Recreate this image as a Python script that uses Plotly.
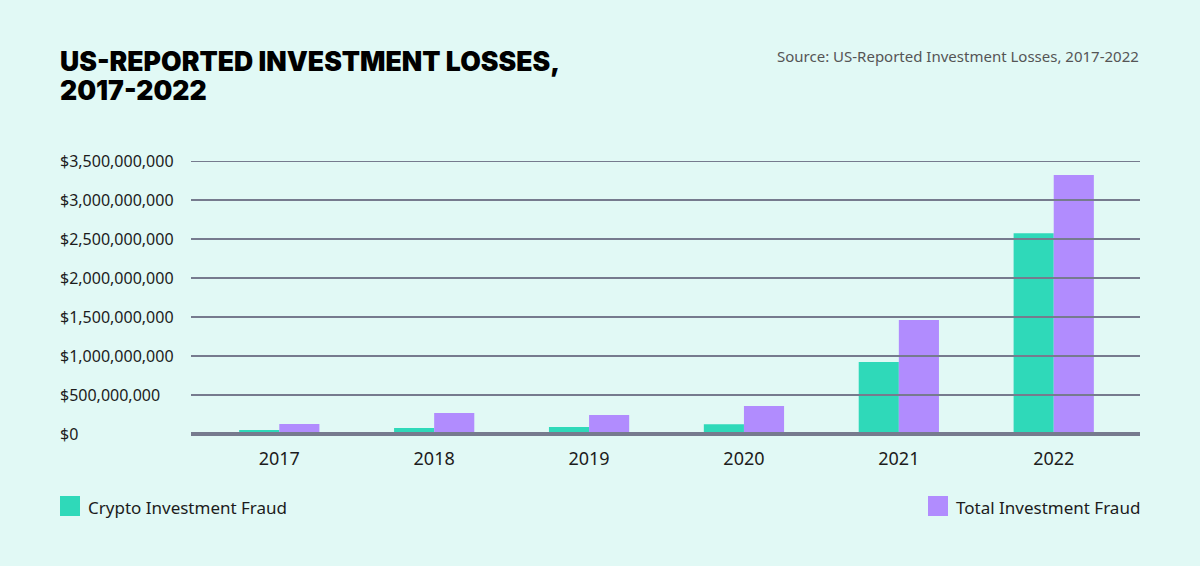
import plotly.graph_objects as go

years = ["2017", "2018", "2019", "2020", "2021", "2022"]
crypto = [50_000_000, 77_000_000, 90_000_000, 125_000_000, 923_000_000, 2_575_000_000]
total = [128_000_000, 270_000_000, 244_000_000, 360_000_000, 1_460_000_000, 3_320_000_000]
ytick_vals = [0, 500_000_000, 1_000_000_000, 1_500_000_000, 2_000_000_000,
              2_500_000_000, 3_000_000_000, 3_500_000_000]
ytick_text = ["$0", "$500,000,000", "$1,000,000,000", "$1,500,000,000",
              "$2,000,000,000", "$2,500,000,000", "$3,000,000,000", "$3,500,000,000"]
title_lines = ["US-REPORTED INVESTMENT LOSSES,", "2017-2022"]

BG = "#e1f9f5"
TEAL = "#2fd9b9"
PURPLE = "#b18cfe"
GRID = "#767b8e"
TXT = "#1c1c1c"
FONT = "Noto Sans"

fig = go.Figure()
fig.add_trace(go.Bar(name="Crypto Investment Fraud", x=years, y=crypto,
                     marker=dict(color=TEAL, line=dict(width=0))))
fig.add_trace(go.Bar(name="Total Investment Fraud", x=years, y=total,
                     marker=dict(color=PURPLE, line=dict(width=0))))

W, H = 1200, 566
L, R, T, B = 191, 60, 161, 130
pw = W - L - R
ph = H - T - B
YMAX = 3_500_000_000
YMIN = -YMAX * (2 / 273)  # small room below zero so the thick baseline is not clipped


def py(ypix):
    return 1 - (ypix - T) / ph


def px(xpix):
    return (xpix - L) / pw


shapes = []
for v in ytick_vals:
    shapes.append(dict(type="line", xref="paper", yref="y", x0=0, x1=1, y0=v, y1=v,
                       line=dict(color=GRID, width=4 if v == 0 else 2), layer="above"))

annotations = []
for v, t in zip(ytick_vals, ytick_text):
    annotations.append(dict(xref="paper", yref="y", x=px(58), y=v, text=t,
                            showarrow=False, xanchor="left", yanchor="middle",
                            font=dict(family=FONT, size=16, color=TXT)))

# Title (two lines placed separately for tight leading) and source
for line, ycen in zip(title_lines, [60.5, 89.5]):
    annotations.append(dict(xref="paper", yref="paper", x=px(58), y=py(ycen),
                            text=line, showarrow=False, xanchor="left", yanchor="middle",
                            font=dict(family="Inter", size=26.6, color="#000000", weight=900)))
annotations.append(dict(xref="paper", yref="paper", x=px(1141), y=py(56),
                        text="Source: US-Reported Investment Losses, 2017-2022",
                        showarrow=False, xanchor="right", yanchor="middle",
                        font=dict(family=FONT, size=15, color="#555555")))

# Legend (custom)
shapes.append(dict(type="rect", xref="paper", yref="paper", x0=px(60), x1=px(80),
                   y0=py(516), y1=py(496), fillcolor=TEAL, line=dict(width=0), layer="above"))
shapes.append(dict(type="rect", xref="paper", yref="paper", x0=px(928), x1=px(948),
                   y0=py(516), y1=py(496), fillcolor=PURPLE, line=dict(width=0), layer="above"))
annotations.append(dict(xref="paper", yref="paper", x=px(86), y=py(507),
                        text="Crypto Investment Fraud", showarrow=False,
                        xanchor="left", yanchor="middle",
                        font=dict(family=FONT, size=17, color=TXT)))
annotations.append(dict(xref="paper", yref="paper", x=px(954), y=py(507),
                        text="Total Investment Fraud", showarrow=False,
                        xanchor="left", yanchor="middle",
                        font=dict(family=FONT, size=17, color=TXT)))

fig.update_layout(
    width=W, height=H,
    margin=dict(l=L, r=R, t=T, b=B, pad=0),
    paper_bgcolor=BG, plot_bgcolor=BG,
    barmode="group", bargap=0.482, bargroupgap=0,
    showlegend=False,
    shapes=shapes, annotations=annotations,
    xaxis=dict(type="category", range=[-0.57, 5.557], showgrid=False, showline=False,
               zeroline=False, ticks="", tickfont=dict(family=FONT, size=18, color=TXT),
               ticklabelstandoff=10),
    yaxis=dict(range=[YMIN, YMAX], showgrid=False, zeroline=False, showline=False,
               showticklabels=False, ticks=""),
)

fig.write_html("out.html", config={"displayModeBar": False},
               post_script="document.body.style.margin='0';document.body.style.background='%s';" % BG)
